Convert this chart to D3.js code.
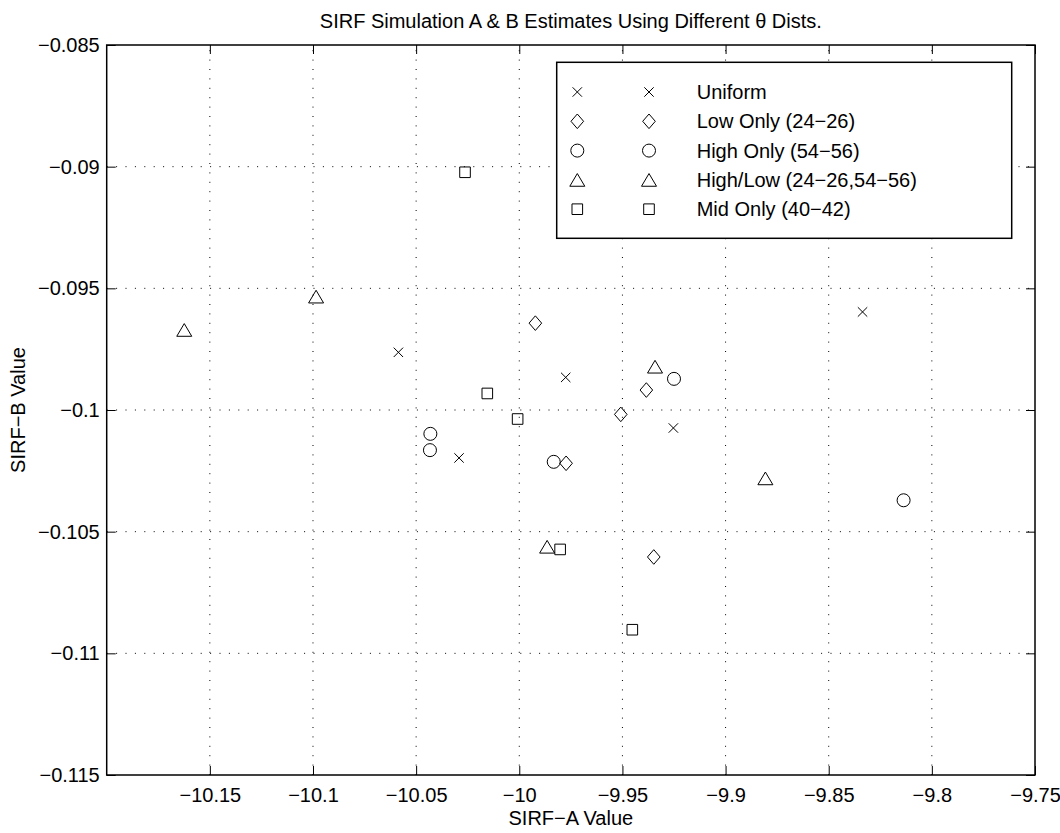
<!DOCTYPE html>
<html>
<head>
<meta charset="utf-8">
<script src="https://cdn.jsdelivr.net/npm/d3@7"></script>
<style>
  html, body { margin: 0; padding: 0; background: #fff; }
  svg { display: block; font-family: "Liberation Sans", Arial, Helvetica, sans-serif; }
</style>
</head>
<body>
<svg id="chart" width="1060" height="833"></svg>
<script>
// Estimates of SIRF-A (x) and SIRF-B (y) for each theta distribution
const seriesNames = ["Uniform", "Low Only (24\u221226)", "High Only (54\u221256)", "High/Low (24\u221226,54\u221256)", "Mid Only (40\u221242)"];
const seriesShapes = ["x", "diamond", "circle", "triangle", "square"];

const uniformA = [-10.0586, -9.9775, -10.0292, -9.9253, -9.8336];
const uniformB = [-0.09763, -0.09866, -0.10197, -0.10074, -0.09597];

const lowA = [-9.9922, -9.9773, -9.9384, -9.9508, -9.9348];
const lowB = [-0.09643, -0.10219, -0.09918, -0.10018, -0.10604];

const highA = [-10.0431, -10.0433, -9.9833, -9.9250, -9.8137];
const highB = [-0.10098, -0.10165, -0.10213, -0.09872, -0.10371];

const highLowA = [-10.1624, -10.0985, -9.9342, -9.8807, -9.9865];
const highLowB = [-0.09671, -0.09534, -0.09822, -0.10281, -0.10562];

const midA = [-10.0263, -10.0155, -10.0008, -9.9802, -9.9452];
const midB = [-0.09023, -0.09932, -0.10037, -0.10573, -0.10903];

const xTicks = [-10.15, -10.1, -10.05, -10, -9.95, -9.9, -9.85, -9.8, -9.75];
const yTicks = [-0.115, -0.11, -0.105, -0.1, -0.095, -0.09, -0.085];

const titleText = "SIRF Simulation A & B Estimates Using Different \u03b8 Dists.";
const xLabel = "SIRF\u2212A Value";
const yLabel = "SIRF\u2212B Value";

const seriesA = [uniformA, lowA, highA, highLowA, midA];
const seriesB = [uniformB, lowB, highB, highLowB, midB];

// ---- layout ----
const W = 1060, H = 833;
const plot = { left: 106.7, right: 1035, top: 45, bottom: 775 };
const fontSize = 20;

const svg = d3.select("#chart");
svg.append("rect").attr("width", W).attr("height", H).attr("fill", "#fff");

const x = d3.scaleLinear().domain([-10.2, -9.75]).range([plot.left, plot.right]);
const y = d3.scaleLinear().domain([-0.115, -0.085]).range([plot.bottom, plot.top]);

const fmt = d3.format("~g");

// dotted grid at interior ticks
const grid = svg.append("g").attr("stroke", "#000").attr("stroke-width", 1)
  .attr("stroke-dasharray", "1,8.4").attr("fill", "none");
xTicks.filter(t => x(t) > plot.left + 1 && x(t) < plot.right - 1).forEach(t => {
  grid.append("line").attr("x1", x(t)).attr("x2", x(t)).attr("y1", plot.bottom).attr("y2", plot.top);
});
yTicks.filter(t => y(t) < plot.bottom - 1 && y(t) > plot.top + 1).forEach(t => {
  grid.append("line").attr("y1", y(t)).attr("y2", y(t)).attr("x1", plot.left).attr("x2", plot.right);
});

// axes with inward ticks on all four sides
const tickLen = 9;
function styleAxis(g) {
  g.select(".domain").remove();
  g.selectAll(".tick line").attr("stroke", "#000").attr("stroke-width", 1);
  g.selectAll(".tick text").attr("fill", "#000").attr("font-size", fontSize)
    .attr("font-family", "Liberation Sans, Arial, Helvetica, sans-serif");
}
svg.append("g").attr("transform", `translate(0,${plot.bottom})`)
  .call(d3.axisBottom(x).tickValues(xTicks).tickFormat(fmt).tickSizeInner(-tickLen).tickSizeOuter(0).tickPadding(13))
  .call(styleAxis);
svg.append("g").attr("transform", `translate(0,${plot.top})`)
  .call(d3.axisTop(x).tickValues(xTicks).tickFormat("").tickSizeInner(-tickLen).tickSizeOuter(0))
  .call(styleAxis);
svg.append("g").attr("transform", `translate(${plot.left},0)`)
  .call(d3.axisLeft(y).tickValues(yTicks).tickFormat(fmt).tickSizeInner(-tickLen).tickSizeOuter(0).tickPadding(7))
  .call(styleAxis);
svg.append("g").attr("transform", `translate(${plot.right},0)`)
  .call(d3.axisRight(y).tickValues(yTicks).tickFormat("").tickSizeInner(-tickLen).tickSizeOuter(0))
  .call(styleAxis);

// axes box
svg.append("rect")
  .attr("x", plot.left).attr("y", plot.top)
  .attr("width", plot.right - plot.left).attr("height", plot.bottom - plot.top)
  .attr("fill", "none").attr("stroke", "#000").attr("stroke-width", 1.5);

// marker shapes
function markerPath(shape) {
  switch (shape) {
    case "x": { const r = 4.7; return `M${-r},${-r}L${r},${r}M${-r},${r}L${r},${-r}`; }
    case "diamond": { const w = 6.3, h = 7.3; return `M0,${-h}L${w},0L0,${h}L${-w},0Z`; }
    case "circle": { const r = 6.5; return `M${r},0A${r},${r} 0 1,1 ${-r},0A${r},${r} 0 1,1 ${r},0Z`; }
    case "triangle": { const w = 7.5, h = 6.35; return `M0,${-h}L${w},${h}L${-w},${h}Z`; }
    case "square": { const s = 5.3; return `M${-s},${-s}L${s},${-s}L${s},${s}L${-s},${s}Z`; }
  }
}

// data markers
seriesA.forEach((xs, i) => {
  const pts = xs.map((a, j) => [a, seriesB[i][j]]);
  svg.append("g").selectAll("path").data(pts).join("path")
    .attr("transform", d => `translate(${x(d[0])},${y(d[1])})`)
    .attr("d", markerPath(seriesShapes[i]))
    .attr("fill", "none").attr("stroke", "#000").attr("stroke-width", 1);
});

// legend
const leg = { x: 556.7, y: 62.3, w: 455, h: 176, rowY0: 92, rowStep: 29.3, m1: 577.3, m2: 649, tx: 696.7 };
const lg = svg.append("g");
lg.append("rect").attr("x", leg.x).attr("y", leg.y).attr("width", leg.w).attr("height", leg.h)
  .attr("fill", "#fff").attr("stroke", "#000").attr("stroke-width", 1.5);
seriesNames.forEach((name, i) => {
  const ry = leg.rowY0 + i * leg.rowStep;
  [leg.m1, leg.m2].forEach(mx => {
    lg.append("path").attr("transform", `translate(${mx},${ry})`)
      .attr("d", markerPath(seriesShapes[i]))
      .attr("fill", "none").attr("stroke", "#000").attr("stroke-width", 1);
  });
  lg.append("text").attr("x", leg.tx).attr("y", ry).attr("dy", "0.35em")
    .attr("font-size", fontSize).attr("fill", "#000").text(name);
});

// titles
const cx = (plot.left + plot.right) / 2;
svg.append("text").attr("x", cx).attr("y", 28).attr("text-anchor", "middle")
  .attr("font-size", fontSize).attr("fill", "#000").text(titleText);
svg.append("text").attr("x", cx).attr("y", 825).attr("text-anchor", "middle")
  .attr("font-size", fontSize).attr("fill", "#000").text(xLabel);
svg.append("text").attr("transform", `translate(25,${(plot.top + plot.bottom) / 2}) rotate(-90)`)
  .attr("text-anchor", "middle").attr("font-size", fontSize).attr("fill", "#000").text(yLabel);
</script>
</body>
</html>
